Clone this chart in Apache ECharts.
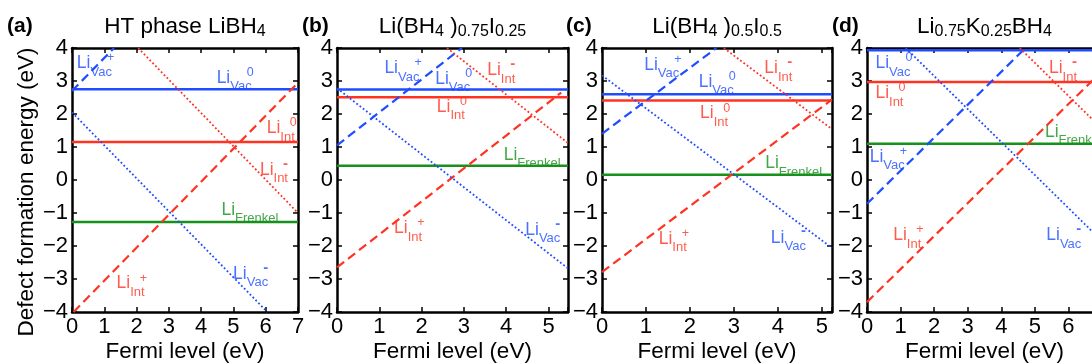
<!DOCTYPE html>
<html>
<head>
<meta charset="utf-8">
<title>Defect formation energy</title>
<script src="https://cdn.jsdelivr.net/npm/echarts@6/dist/echarts.min.js"></script>
<style>
    html, body {margin: 0; padding: 0; background: #fff;}
    #chart {width: 1092px; height: 364px;}
</style>
</head>
<body>
<div id="chart"></div>
<script>
// panel headers
var panelLetters = ['(a)', '(b)', '(c)', '(d)'];
var panelTitles = [
    'HT phase LiBH{s|4}',
    'Li(BH{s|4} ){s|0.75}I{s|0.25}',
    'Li(BH{s|4} ){s|0.5}I{s|0.5}',
    'Li{s|0.75}K{s|0.25}BH{s|4}'
];

// axes
var xMax = [7, 5.46, 5.23, 7];
var yMin = -4, yMax = 4;

// flat levels (eV)
var vacNeutral = [2.75, 2.74, 2.6, 3.93];
var intNeutral = [1.15, 2.51, 2.41, 2.97];
var frenkel = [-1.27, 0.43, 0.16, 1.1];

// charged defects, end points [Fermi level, energy]
var vacPlus = [
    [[0, 2.7], [1.3, 4]],
    [[0, 1.05], [2.95, 4]],
    [[0, 1.4], [2.6, 4]],
    [[0, -0.72], [4.72, 4]]
];
var intPlus = [
    [[0.05, -4], [7, 2.95]],
    [[0, -2.65], [5.3, 2.65]],
    [[0, -2.79], [5.23, 2.44]],
    [[0, -3.7], [7, 3.3]]
];
var intMinus = [
    [[2.05, 4], [7, -1.0]],
    [[2.6, 4], [5.46, 1.12]],
    [[2.77, 4], [5.23, 1.54]],
    [[4.55, 4], [7, 1.55]]
];
var vacMinus = [
    [[0, 2.05], [6.05, -4]],
    [[0, 2.78], [5.46, -2.68]],
    [[0, 3.17], [5.23, -2.06]],
    [[1.15, 4], [7, -1.85]]
];

// label texts and where they sit (left edge, middle of "Li")
var labelText = {
    vacPlus: '{li|Li}{sub|Vac}{sup|+}',
    vacNeutral: '{li|Li}{sub|Vac}{sup|0}',
    vacMinus: '{li|Li}{sub|Vac}{neg|-}',
    intPlus: '{li|Li}{sub|Int}{sup|+}',
    intNeutral: '{li|Li}{sub|Int}{sup|0}',
    intMinus: '{li|Li}{sub|Int}{neg|-}',
    frenkel: '{li|Li}{sub|Frenkel}'
};
var labelPos = [
    {vacPlus: [0.15, 3.53], vacNeutral: [4.48, 3.1], intNeutral: [6.03, 1.56], intMinus: [5.82, 0.3],
     frenkel: [4.63, -0.92], vacMinus: [4.99, -2.86], intPlus: [1.38, -3.14]},
    {vacPlus: [1.12, 3.38], vacNeutral: [2.32, 3.07], intMinus: [3.55, 3.32], intNeutral: [2.36, 2.21],
     frenkel: [3.94, 0.75], intPlus: [1.35, -1.47], vacMinus: [4.45, -1.52]},
    {vacPlus: [0.96, 3.48], vacNeutral: [2.2, 2.97], intMinus: [3.69, 3.38], intNeutral: [2.23, 2.01],
     frenkel: [3.71, 0.5], intPlus: [1.29, -1.78], vacMinus: [3.84, -1.75]},
    {vacNeutral: [0.25, 3.53], intNeutral: [0.25, 2.62], vacPlus: [0.08, 0.7], intMinus: [5.42, 3.38],
     frenkel: [5.3, 1.45], intPlus: [0.78, -1.68], vacMinus: [5.34, -1.68]}
];

var BLUE = '#1f4cff', RED = '#ff3322', GREEN = '#17901c';
var FONT = '"Liberation Sans", Arial, Helvetica, sans-serif';
var labelColor = {
    vacPlus: BLUE, vacNeutral: BLUE, vacMinus: BLUE,
    intPlus: RED, intNeutral: RED, intMinus: RED, frenkel: GREEN
};

var grids = [
    {left: 72, top: 48, width: 226, height: 264, outerBoundsMode: 'none'},
    {left: 337, top: 48, width: 231, height: 264, outerBoundsMode: 'none'},
    {left: 602, top: 48, width: 230, height: 264, outerBoundsMode: 'none'},
    {left: 867, top: 48, width: 235, height: 264, outerBoundsMode: 'none'}
];

var DASH = [9, 5], DOT = [1.8, 2.3];

function minus(v) {
    return String(v).replace('-', '\u2212');
}

function lineSeries(p, data, color, type, width) {
    return {
        type: 'line', xAxisIndex: p, yAxisIndex: p,
        data: data, symbol: 'none', silent: true, clip: true,
        lineStyle: {color: color, width: width, type: type, cap: 'butt'}
    };
}

var xAxes = [], yAxes = [], series = [], titles = [];

for (var p = 0; p < 4; p++) {
    var axisLine = {onZero: false, lineStyle: {color: '#000', width: 2.5}};
    var tick = {inside: true, length: 5, lineStyle: {color: '#000', width: 1.5}};

    xAxes.push({
        type: 'value', gridIndex: p, min: 0, max: xMax[p], interval: 1,
        position: 'bottom', axisLine: axisLine, axisTick: tick, splitLine: {show: false},
        axisLabel: {
            color: '#000', fontSize: 22, fontFamily: FONT, margin: 4,
            formatter: function (v) { return Math.abs(v - Math.round(v)) < 1e-9 ? String(Math.round(v)) : ''; }
        },
        name: 'Fermi level (eV)', nameLocation: 'middle', nameGap: 28, nameMoveOverlap: false,
        nameTextStyle: {color: '#000', fontSize: 22.5, fontFamily: FONT, verticalAlign: 'top'}
    });
    yAxes.push({
        type: 'value', gridIndex: p, min: yMin, max: yMax, interval: 1,
        position: 'left', axisLine: axisLine, axisTick: tick, splitLine: {show: false},
        axisLabel: {color: '#000', fontSize: 22, fontFamily: FONT, margin: 4, formatter: minus},
        name: p === 0 ? 'Defect formation energy (eV)' : '', nameLocation: 'middle', nameGap: 34,
        nameTextStyle: {color: '#000', fontSize: 22.5, fontFamily: FONT, padding: [0, 24, 0, 0]}
    });

    var pos = labelPos[p];
    series.push(lineSeries(p, [[0, vacNeutral[p]], [xMax[p], vacNeutral[p]]], BLUE, 'solid', 2.5));
    series.push(lineSeries(p, [[0, intNeutral[p]], [xMax[p], intNeutral[p]]], RED, 'solid', 2.5));
    series.push(lineSeries(p, [[0, frenkel[p]], [xMax[p], frenkel[p]]], GREEN, 'solid', 2.5));
    series.push(lineSeries(p, vacPlus[p], BLUE, DASH, 2.2));
    series.push(lineSeries(p, intPlus[p], RED, DASH, 2.2));
    series.push(lineSeries(p, intMinus[p], RED, DOT, 1.8));
    series.push(lineSeries(p, vacMinus[p], BLUE, DOT, 1.8));

    for (var key in pos) {
        var c = labelColor[key];
        series.push({
            type: 'scatter', xAxisIndex: p, yAxisIndex: p, silent: true,
            symbolSize: 0, data: [pos[key]],
            label: {
                show: true, position: 'right', distance: 0,
                formatter: labelText[key],
                rich: {
                    li: {fontSize: 17.5, color: c, fontFamily: FONT, lineHeight: 30, verticalAlign: 'middle'},
                    sub: {fontSize: 13, color: c, fontFamily: FONT, lineHeight: 17, verticalAlign: 'bottom'},
                    sup: {fontSize: 12.5, color: c, fontFamily: FONT, lineHeight: 18, verticalAlign: 'top',
                          padding: [3, 0, 0, -5]},
                    neg: {fontSize: 15, fontWeight: 'bold', color: c, fontFamily: FONT, lineHeight: 18,
                          verticalAlign: 'top', padding: [1, 0, 0, -5]}
                }
            }
        });
    }

    titles.push({
        text: panelTitles[p], left: grids[p].left + grids[p].width / 2, top: 14, textAlign: 'center',
        padding: 0,
        textStyle: {
            color: '#000', fontSize: 22.5, fontWeight: 'normal', fontFamily: FONT, lineHeight: 26,
            rich: {s: {fontSize: 16, color: '#000', fontFamily: FONT, lineHeight: 16, verticalAlign: 'bottom'}}
        }
    });
}

// the box: mirror axes on top and right, ticks only
for (p = 0; p < 4; p++) {
    xAxes.push({
        type: 'value', gridIndex: p, min: 0, max: xMax[p], interval: 1, position: 'top',
        axisLine: {onZero: false, lineStyle: {color: '#000', width: 2.5}},
        axisTick: {inside: true, length: 5, lineStyle: {color: '#000', width: 1.5}},
        axisLabel: {show: false}, splitLine: {show: false}
    });
    yAxes.push({
        type: 'value', gridIndex: p, min: yMin, max: yMax, interval: 1, position: 'right',
        axisLine: {onZero: false, lineStyle: {color: '#000', width: 2.5}},
        axisTick: {inside: true, length: 5, lineStyle: {color: '#000', width: 1.5}},
        axisLabel: {show: false}, splitLine: {show: false}
    });
}

var letterLeft = [7, 302, 566, 832];
for (p = 0; p < 4; p++) {
    titles.push({
        text: panelLetters[p], left: letterLeft[p], top: 13, padding: 0,
        textStyle: {color: '#000', fontSize: 21, fontWeight: 'bold', fontFamily: FONT, lineHeight: 26}
    });
}

var myChart = echarts.init(document.getElementById('chart'), null, {renderer: 'canvas'});
myChart.setOption({
    animation: false,
    backgroundColor: '#fff',
    textStyle: {fontFamily: FONT},
    title: titles,
    grid: grids,
    xAxis: xAxes,
    yAxis: yAxes,
    series: series
});
</script>
</body>
</html>
